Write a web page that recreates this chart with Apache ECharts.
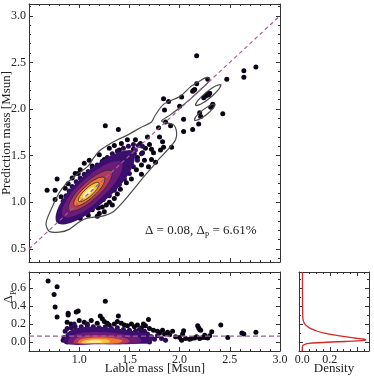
<!DOCTYPE html>
<html>
<head>
<meta charset="utf-8">
<script src="https://cdn.jsdelivr.net/npm/echarts@6/dist/echarts.min.js"></script>
<style>
  html, body { margin: 0; padding: 0; background: #fff; }
  #chart { width: 374px; height: 378px; }
</style>
</head>
<body>
<div id="chart"></div>
<script>
// ---- data ----
// main panel: label mass vs prediction mass
var mainBlack = [
  [2.17,2.57],[2.47,2.32],[2.64,2.41],[2.64,2.34],[2.76,2.45],[2.43,1.95],[2.19,1.84],[2.20,1.96],[2.21,1.92],
  [2.28,2.16],[2.29,2.15],[2.26,2.14],[2.30,2.17],[2.24,2.12],[2.33,2.05],[2.32,2.03],[2.31,2.02],
  [2.17,2.27],[2.28,2.32],[2.14,2.20],[2.13,2.19],[2.15,2.21],[2.02,2.13],[2.04,1.89],[2.04,1.76],[2.13,1.78],
  [1.84,2.11],[1.89,2.08],[2.00,2.03],[1.85,1.99],[1.79,1.80],[1.91,1.82],[1.86,1.86],[1.80,1.70],[1.92,1.59],
  [1.84,1.59],[1.81,1.56],[1.74,1.53],[1.83,1.65],[1.72,1.57],[1.63,1.53],[1.54,1.57],[1.56,1.67],[1.48,1.67],
  [1.61,1.63],[1.68,1.70],[1.70,1.62],[1.66,1.58],[1.58,1.48],[1.65,1.45],[1.72,1.46],[1.76,1.43],[1.69,1.38],
  [1.62,1.40],[1.57,1.35],[1.62,1.30],[1.52,1.25],[1.47,1.21],[1.49,1.43],[1.44,1.50],[1.40,1.56],[1.36,1.49],
  [1.42,1.63],[1.35,1.61],[1.30,1.58],[1.26,1.82],[1.39,1.78],
  [0.68,1.13],[0.76,1.13],[0.78,1.25],[0.99,1.31],[1.01,1.35],[0.89,1.20],[0.86,1.15],[0.82,1.06],[0.76,1.03],
  [1.10,1.45],[1.13,1.39],[1.05,1.42],[0.93,1.26],[0.96,1.31],[1.20,1.51],[1.25,1.46],[0.88,0.94],[0.91,0.88],
  [1.19,0.94],[1.23,0.95],[1.27,0.97],[1.30,1.00],[1.25,0.90],[1.20,0.88],[1.18,0.85],[1.01,0.83],[0.91,0.81],
  [1.35,1.04],[1.38,1.09],[1.41,1.14],[1.33,0.97],[1.09,0.86],[0.99,0.86],[1.13,0.92]
];
var mainFringe = [
  [0.80,0.80],[0.83,0.85],[0.82,0.92],[0.84,1.01],[0.87,1.07],[0.90,1.12],[0.93,1.17],[0.97,1.22],[1.01,1.26],
  [1.05,1.30],[1.09,1.33],[1.13,1.37],[1.18,1.40],[1.23,1.44],[1.28,1.48],[1.33,1.52],[1.38,1.55],[1.44,1.58],
  [1.49,1.60],[1.54,1.62],[1.59,1.61],[1.63,1.60],
  [0.88,0.85],[0.94,0.87],[1.00,0.90],[1.06,0.92],[1.12,0.96],[1.18,0.99],[1.24,1.03],[1.30,1.07],[1.35,1.13],
  [1.40,1.19],[1.45,1.25],[1.50,1.31],[1.54,1.38],[1.58,1.45],[1.62,1.52],[1.55,1.52],[1.48,1.45],[1.52,1.40]
];
var mainPurple = [
  [1.44,1.40],[1.47,1.47],[1.40,1.45],[1.36,1.40],[1.42,1.34],[1.50,1.53],[0.86,0.90],[0.88,0.98],[0.95,0.94],
  [1.30,1.40],[1.32,1.30],[1.25,1.36],[1.52,1.48],[1.56,1.56]
];
// density core of the main panel, outer to inner level
var mainLevels = [
  [[1.54,1.54],[1.344,1.514],[1.04,1.28],[0.806,0.976],[0.78,0.78],[0.976,0.806],[1.28,1.04],[1.514,1.344]],
  [[1.42,1.43],[1.271,1.409],[1.04,1.23],[0.861,0.999],[0.84,0.85],[0.989,0.871],[1.22,1.05],[1.399,1.281]],
  [[1.32,1.335],[1.212,1.319],[1.045,1.19],[0.916,1.023],[0.90,0.915],[1.008,0.931],[1.175,1.06],[1.304,1.227]],
  [[1.25,1.265],[1.174,1.253],[1.055,1.16],[0.962,1.041],[0.95,0.965],[1.026,0.977],[1.145,1.07],[1.238,1.189]],
  [[1.195,1.21],[1.145,1.202],[1.065,1.14],[1.003,1.06],[0.995,1.01],[1.045,1.018],[1.125,1.08],[1.187,1.16]],
  [[1.145,1.16],[1.118,1.155],[1.075,1.12],[1.04,1.077],[1.035,1.05],[1.062,1.055],[1.105,1.09],[1.14,1.133]]
];
// grey contour lines
var outerContour = [
  [0.70,0.69],[0.80,0.68],[0.90,0.71],[1.00,0.79],[1.08,0.83],[1.22,0.85],[1.34,0.90],[1.45,1.02],[1.55,1.15],
  [1.64,1.27],[1.73,1.38],[1.80,1.47],[1.87,1.55],[1.92,1.61],[1.96,1.67],[1.97,1.75],[1.94,1.83],[1.82,1.87],
  [1.91,1.94],[2.02,2.03],[2.12,2.12],[2.22,2.22],[2.28,2.28],[2.30,2.32],[2.27,2.34],[2.20,2.30],[2.11,2.24],
  [2.01,2.14],[1.84,2.05],[1.75,1.92],[1.72,1.86],[1.61,1.80],[1.48,1.72],[1.38,1.67],[1.28,1.61],[1.20,1.55],
  [1.14,1.47],[1.09,1.39],[0.98,1.30],[0.87,1.20],[0.80,1.10],[0.74,0.97],[0.67,0.78]
];
var loopA = [[2.41,2.26],[2.357,2.246],[2.262,2.176],[2.181,2.09],[2.16,2.04],[2.213,2.054],[2.308,2.124],[2.389,2.21]];
var loopB = [[2.35,2.05],[2.307,2.041],[2.23,1.988],[2.165,1.921],[2.15,1.88],[2.193,1.889],[2.27,1.942],[2.335,2.009]];
var diagLine = [[0.5,0.5],[3.0,3.0]];

// lower panel: label mass vs relative error
var botBlack = [
  [0.69,0.68],[0.75,0.53],[0.78,0.615],[0.76,0.39],[0.78,0.28],[1.26,0.455],[0.97,0.335],[0.99,0.345],[0.89,0.32],
  [0.89,0.30],[1.21,0.29],[1.39,0.29],[1.69,0.25],[1.64,0.20],
  [0.88,0.22],[0.92,0.20],[1.00,0.24],[1.05,0.22],[1.08,0.19],[1.12,0.24],[1.18,0.21],[1.23,0.26],[1.25,0.23],
  [1.28,0.21],[1.30,0.19],[1.35,0.20],[1.38,0.23],[1.42,0.21],[1.45,0.19],[1.48,0.18],[1.52,0.20],[1.55,0.17],
  [1.58,0.19],[1.62,0.16],[1.66,0.18],[1.70,0.15],[1.74,0.13],[1.78,0.12],[1.80,0.10],[1.83,0.13],[1.85,0.09],
  [1.88,0.11],[1.90,0.08],[1.93,0.12],[1.96,0.06],[2.00,0.05],[2.03,0.09],
  [2.41,0.19],[2.18,0.18],[2.19,0.16],[2.20,0.14],[2.21,0.13],[2.32,0.115],[2.04,0.126],[2.62,0.10],[2.64,0.09],
  [2.76,0.108],[2.12,0.04],[2.15,0.045],[2.20,0.04],[2.23,0.05],[2.26,0.05],[2.28,0.045],[2.30,0.07],[2.17,0.06],
  [2.25,0.075],[2.48,0.05],[2.02,0.02],[2.06,0.04],[2.10,0.03]
];
var botFringe = [
  [0.85,0.05],[0.86,0.12],[0.88,0.15],[0.92,0.16],[0.96,0.17],[1.02,0.17],[1.08,0.16],[1.14,0.17],[1.20,0.16],
  [1.26,0.17],[1.32,0.15],[1.38,0.16],[1.44,0.14],[1.50,0.13],[1.56,0.12],[1.62,0.11],[1.68,0.09],[1.72,0.06],
  [1.75,0.03],[1.70,0.0],[1.78,0.07],[1.82,0.04],[1.86,0.02],[0.88,0.0],[0.84,0.02],[1.65,0.12],[1.60,0.14],
  [1.08,0.20],[0.95,0.20]
];
var botLevels = [
  [[0.86,-0.02],[0.85,0.05],[0.90,0.12],[1.00,0.16],[1.15,0.17],[1.30,0.16],[1.45,0.14],[1.60,0.11],[1.72,0.08],[1.72,0.0],[1.60,-0.02],[1.20,-0.025]],
  [[0.90,-0.018],[0.90,0.04],[0.97,0.09],[1.10,0.11],[1.30,0.105],[1.45,0.085],[1.58,0.055],[1.62,0.01],[1.50,-0.02],[1.20,-0.022]],
  [[0.95,-0.015],[0.96,0.03],[1.05,0.065],[1.20,0.075],[1.35,0.065],[1.48,0.035],[1.50,0.0],[1.40,-0.018],[1.15,-0.02]],
  [[0.99,-0.012],[1.01,0.025],[1.10,0.045],[1.22,0.05],[1.35,0.04],[1.43,0.015],[1.38,-0.012],[1.15,-0.016]],
  [[1.02,-0.008],[1.05,0.015],[1.13,0.03],[1.23,0.03],[1.30,0.018],[1.30,-0.005],[1.15,-0.012]],
  [[1.07,-0.002],[1.10,0.012],[1.17,0.018],[1.23,0.01],[1.20,-0.005],[1.12,-0.007]]
];
var meanErr = 0.0661;

// right panel: density of relative error  [density, error]
var densityCurve = [
  [0.002,0.78],[0.002,0.6],[0.003,0.4],[0.004,0.3],[0.006,0.25],[0.012,0.22],[0.02,0.2],[0.032,0.18],[0.05,0.16],
  [0.075,0.14],[0.11,0.12],[0.16,0.10],[0.23,0.08],[0.31,0.06],[0.38,0.045],[0.43,0.035],[0.46,0.025],[0.45,0.018],
  [0.40,0.012],[0.31,0.006],[0.21,0.0],[0.11,-0.008],[0.05,-0.016],[0.02,-0.025],[0.007,-0.035],[0.002,-0.05],[0.0,-0.1]
];

// ---- styles ----
var FONT = 'Liberation Serif';
var levelColors = ['#3b0f6e', '#6d1b79', '#b5365f', '#ee7a30', '#f7c443', '#fbf0ad'];
var axisColor = '#333';
var dashColor = '#a0609a';

function axis(grid, pos, min, max, opt) {
  opt = opt || {};
  return {
    type: 'value', gridIndex: grid, position: pos, min: min, max: max,
    interval: opt.interval, splitNumber: opt.split,
    axisLine: { show: true, onZero: false, lineStyle: { color: axisColor, width: 1 } },
    axisTick: { show: true, inside: true, length: 4, lineStyle: { color: axisColor } },
    minorTick: { show: true, splitNumber: opt.minor || 5, length: 2, lineStyle: { color: axisColor } },
    splitLine: { show: false },
    axisLabel: {
      show: !!opt.labels, margin: 3, fontFamily: FONT, fontSize: 12, color: '#222',
      showMinLabel: true, showMaxLabel: true,
      formatter: opt.labels || function () { return ''; }
    }
  };
}
function only(list) {
  return function (v) {
    for (var i = 0; i < list.length; i++) if (Math.abs(v - list[i]) < 1e-6) return list[i].toFixed(1);
    return '';
  };
}

function levelSeries(levels, xi, yi, strokeFrom) {
  return {
    type: 'custom', xAxisIndex: xi, yAxisIndex: yi, z: 3, silent: true,
    data: levels.map(function (p, i) { return [p[0][0], p[0][1], i]; }),
    renderItem: function (params, api) {
      var i = params.dataIndex;
      var pts = levels[i].map(function (p) { return api.coord(p); });
      var stroked = strokeFrom >= 0 && i >= strokeFrom && i < 5;
      return {
        type: 'polygon',
        shape: { points: pts, smooth: 0.4 },
        style: { fill: levelColors[i], stroke: stroked ? '#2a2a2a' : null, lineWidth: 0.8 }
      };
    }
  };
}
function contourSeries(loops) {
  return {
    type: 'custom', xAxisIndex: 0, yAxisIndex: 0, z: 4, silent: true,
    data: loops.map(function (p, i) { return [p[0][0], p[0][1], i]; }),
    renderItem: function (params, api) {
      var pts = loops[params.dataIndex].map(function (p) { return api.coord(p); });
      return {
        type: 'polygon',
        shape: { points: pts, smooth: 0.3 },
        style: { fill: null, stroke: '#4a4a4a', lineWidth: 1.2 }
      };
    }
  };
}
function dots(data, xi, yi, color) {
  return {
    type: 'scatter', xAxisIndex: xi, yAxisIndex: yi, z: 2, silent: true,
    symbolSize: 5, itemStyle: { color: color, opacity: 1 }, data: data
  };
}

var option = {
  backgroundColor: '#ffffff',
  animation: false,
  grid: [
    { left: 29, top: 4, width: 251, height: 258 },
    { left: 29, top: 272, width: 251, height: 79 },
    { left: 299, top: 272, width: 70, height: 79 }
  ],
  xAxis: [
    axis(0, 'bottom', 0.5, 3.0, { interval: 0.5 }),
    axis(0, 'top', 0.5, 3.0, { interval: 0.5 }),
    axis(1, 'bottom', 0.5, 3.0, { interval: 0.5, labels: only([1.0, 1.5, 2.0, 2.5, 3.0]) }),
    axis(1, 'top', 0.5, 3.0, { interval: 0.5 }),
    axis(2, 'bottom', -0.023, 0.483, { split: 3, minor: 4, labels: only([0.0, 0.2]) }),
    axis(2, 'top', -0.023, 0.483, { split: 3, minor: 4 })
  ],
  yAxis: [
    axis(0, 'left', 0.36, 3.126, { split: 5, labels: only([0.5, 1.0, 1.5, 2.0, 2.5, 3.0]) }),
    axis(0, 'right', 0.36, 3.126, { split: 5 }),
    axis(1, 'left', -0.1, 0.78, { split: 4, minor: 2, labels: only([0.0, 0.2, 0.4, 0.6]) }),
    axis(1, 'right', -0.1, 0.78, { split: 4, minor: 2 }),
    axis(2, 'left', -0.1, 0.78, { split: 4, minor: 2 }),
    axis(2, 'right', -0.1, 0.78, { split: 4, minor: 2 })
  ],
  series: [
    dots(mainBlack, 0, 0, '#0b0414'),
    dots(mainFringe, 0, 0, '#2a0b52'),
    dots(mainPurple, 0, 0, '#5a1672'),
    levelSeries(mainLevels, 0, 0, 2),
    contourSeries([outerContour, loopA, loopB]),
    {
      type: 'line', xAxisIndex: 0, yAxisIndex: 0, z: 5, silent: true, symbol: 'none',
      lineStyle: { color: dashColor, width: 1.2, type: [4, 3] }, data: diagLine
    },
    dots(botBlack, 2, 2, '#0b0414'),
    dots(botFringe, 2, 2, '#2a0b52'),
    levelSeries(botLevels, 2, 2, -1),
    {
      type: 'line', xAxisIndex: 2, yAxisIndex: 2, z: 5, silent: true, symbol: 'none',
      lineStyle: { color: dashColor, width: 1.2, type: [5, 3] },
      data: [[0.5, meanErr], [3.0, meanErr]]
    },
    {
      type: 'line', xAxisIndex: 4, yAxisIndex: 4, z: 5, silent: true, symbol: 'none', smooth: 0.3,
      lineStyle: { color: '#d62728', width: 1.3 }, data: densityCurve
    }
  ],
  graphic: [
    {
      type: 'text', x: 7, y: 133, rotation: Math.PI / 2,
      style: { text: 'Prediction mass [Msun]', font: '13px "Liberation Serif"', fill: '#222', align: 'center', verticalAlign: 'middle' }
    },
    {
      type: 'text', x: 9, y: 297, rotation: Math.PI / 2,
      style: {
        text: '{n|Δ}{s|P}', fill: '#222', align: 'center', verticalAlign: 'middle',
        rich: {
          n: { fontFamily: FONT, fontSize: 13, lineHeight: 18 },
          s: { fontFamily: FONT, fontSize: 8, lineHeight: 9, verticalAlign: 'bottom' }
        }
      }
    },
    {
      type: 'text', x: 155, y: 369,
      style: { text: 'Lable mass [Msun]', font: '13px "Liberation Serif"', fill: '#222', align: 'center', verticalAlign: 'middle' }
    },
    {
      type: 'text', x: 334, y: 369,
      style: { text: 'Density', font: '13px "Liberation Serif"', fill: '#222', align: 'center', verticalAlign: 'middle' }
    },
    {
      type: 'text', x: 145, y: 231,
      style: {
        text: '{n|Δ = 0.08, Δ}{s|P}{n| = 6.61%}', fill: '#222', align: 'left', verticalAlign: 'middle',
        rich: {
          n: { fontFamily: FONT, fontSize: 13, lineHeight: 18 },
          s: { fontFamily: FONT, fontSize: 8, lineHeight: 9, verticalAlign: 'bottom' }
        }
      }
    }
  ]
};

var chart = echarts.init(document.getElementById('chart'), null, { renderer: 'canvas' });
chart.setOption(option);
</script>
</body>
</html>
